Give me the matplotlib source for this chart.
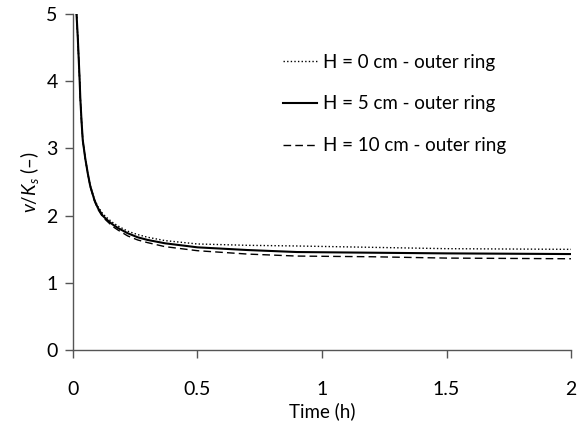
import matplotlib.pyplot as plt
import numpy as np

plt.rcParams['font.family'] = ['Lato', 'DejaVu Sans']
plt.rcParams['mathtext.fontset'] = 'custom'
plt.rcParams['mathtext.it'] = 'Lato:italic'
plt.rcParams['mathtext.rm'] = 'Lato'

# tiempo (h)
t = np.array([0.008, 0.012, 0.02, 0.027, 0.03, 0.035, 0.04, 0.05, 0.06, 0.07,
              0.087, 0.1, 0.12, 0.14, 0.16, 0.18, 0.22, 0.26, 0.3, 0.37,
              0.5, 0.7, 0.9, 1.2, 1.5, 2.0])

h0 = np.array([6.0, 5.2, 4.64, 4.05, 3.75, 3.4, 3.12, 2.85, 2.63, 2.45,
               2.24, 2.14, 2.03, 1.96, 1.90, 1.85, 1.77, 1.72, 1.68, 1.63,
               1.58, 1.56, 1.55, 1.53, 1.51, 1.50])
h5 = np.array([6.0, 5.2, 4.64, 4.05, 3.75, 3.4, 3.12, 2.85, 2.63, 2.44,
               2.23, 2.12, 2.00, 1.93, 1.87, 1.82, 1.74, 1.68, 1.64, 1.59,
               1.53, 1.49, 1.46, 1.45, 1.44, 1.43])
h10 = np.array([6.0, 5.2, 4.64, 4.05, 3.75, 3.4, 3.12, 2.85, 2.63, 2.43,
                2.22, 2.10, 1.98, 1.91, 1.84, 1.79, 1.70, 1.64, 1.60, 1.54,
                1.48, 1.43, 1.40, 1.39, 1.37, 1.36])

etiquetas = ["H = 0 cm - outer ring", "H = 5 cm - outer ring", "H = 10 cm - outer ring"]

fig = plt.figure(figsize=(5.78, 4.25), dpi=100)
ax = fig.add_axes([0.126, 0.176, 0.862, 0.791])

ax.plot(t, h0, color="black", linestyle=(0, (1, 1.6)), linewidth=1.0, label=etiquetas[0])
ax.plot(t, h5, color="black", linestyle="-", linewidth=1.5, label=etiquetas[1])
ax.plot(t, h10, color="black", linestyle=(0, (5.5, 3)), linewidth=1.0, label=etiquetas[2])

ax.set_xlim(0, 2)
ax.set_ylim(0, 5)
ax.set_xticks([0, 0.5, 1, 1.5, 2])
ax.set_xticklabels(["0", "0.5", "1", "1.5", "2"])
ax.set_yticks([0, 1, 2, 3, 4, 5])

for lado in ["top", "right"]:
    ax.spines[lado].set_visible(False)
for lado in ["left", "bottom"]:
    ax.spines[lado].set_color("#555555")
    ax.spines[lado].set_linewidth(1.0)

ax.tick_params(direction="out", length=6, width=1.0, color="#555555",
               labelsize=14)
ax.tick_params(axis="x", pad=16)
ax.tick_params(axis="y", pad=5)

ax.set_xlabel("Time (h)", fontsize=13.5, labelpad=3)
ax.set_ylabel(r"$v$/$K_s$ (–)", fontsize=13.5, labelpad=4)

ax.legend(loc="upper left", bbox_to_anchor=(0.4217, 0.882), frameon=False,
          fontsize=13.5, handlelength=1.8, handletextpad=0.32, labelspacing=1.32,
          borderpad=0, borderaxespad=0)

fig.savefig("out.png", dpi=100)
